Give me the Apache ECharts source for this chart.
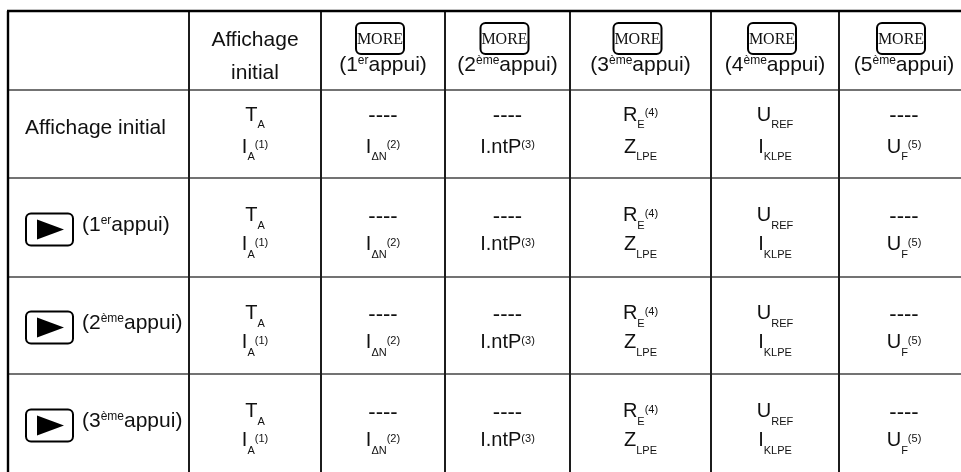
<!DOCTYPE html>
<html><head><meta charset="utf-8">
<script src="https://cdn.jsdelivr.net/npm/echarts@6/dist/echarts.min.js"></script>
<style>html,body{margin:0;padding:0;background:#fff}#c{width:961px;height:472px}</style>
</head><body><div id="c"></div>
<script>
// ---------------- data ----------------
const headerFirstCol = ['Affichage', 'initial'];
const buttonLabel = 'MORE';
const pressOrdinals = ['1', '2', '3', '4', '5'];
const pressSuffixes = ['er', 'ème', 'ème', 'ème', 'ème'];
const pressWord = 'appui)';
const rowFirstLabel = 'Affichage initial';
const rowOrdinals = ['1', '2', '3'];
const rowSuffixes = ['er', 'ème', 'ème'];
// markup: main_sub^sup
const cellLine1 = ['T_A', '----', '----', 'R_E^(4)', 'U_REF', '----'];
const cellLine2 = ['I_A^(1)', 'I_\u0394N^(2)', 'I.ntP^(3)', 'Z_LPE', 'I_KLPE', 'U_F^(5)'];

// ---------------- layout ----------------
const COLS = [8, 189, 321, 445, 570, 711, 839, 969];
const ROWS = [11, 90, 178, 277, 374, 473];
const FONT = '"Liberation Sans", Arial, sans-serif';
const SERIF = '"Liberation Serif", "Times New Roman", serif';
const INK = '#111';
const BORDER = '#000', V_LINE = '#1c1c1c', H_LINE = '#444';

const mctx = document.createElement('canvas').getContext('2d');
function tw(s, size, fam) { mctx.font = size + 'px ' + (fam || FONT); return mctx.measureText(s).width; }
function txt(s, x, y, size, align, fam) {
  return { type: 'text', style: { text: s, x: x, y: y, fill: INK, font: size + 'px ' + (fam || FONT), align: align || 'left', verticalAlign: 'middle' } };
}
function line(x1, y1, x2, y2, stroke, w) {
  return { type: 'line', shape: { x1, y1, x2, y2 }, style: { stroke, lineWidth: w } };
}
function parse(s) {
  let main = s, sub = '', sup = '';
  const ci = main.indexOf('^'); if (ci >= 0) { sup = main.slice(ci + 1); main = main.slice(0, ci); }
  const ui = main.indexOf('_'); if (ui >= 0) { sub = main.slice(ui + 1); main = main.slice(0, ui); }
  return { main, sub, sup };
}
const MAIN = 20, SMALL = 11;
function composed(s, cx, y, out) {
  const p = parse(s);
  const isDash = /^-+$/.test(p.main);
  const size = isDash ? 22 : MAIN;
  const wm = tw(p.main, size), ws = p.sub ? tw(p.sub, SMALL) : 0, wp = p.sup ? tw(p.sup, SMALL) : 0;
  let x = cx - (wm + ws + wp) / 2;
  out.push(txt(p.main, x, isDash ? y + 1 : y, size));
  x += wm;
  if (p.sub) { out.push(txt(p.sub, x, y + 10, SMALL)); x += ws; }
  if (p.sup) { out.push(txt(p.sup, x, y - 2, SMALL)); }
}
const HS = 21, HSUP = 12;
function pressText(ord, suf, x, y, centered, out) {
  const a = '(' + ord;
  const w1 = tw(a, HS), w2 = tw(suf, HSUP), w3 = tw(pressWord, HS);
  let sx = centered ? x - (w1 + w2 + w3) / 2 : x;
  out.push(txt(a, sx, y, HS)); sx += w1;
  out.push(txt(suf, sx, y - 4, HSUP)); sx += w2;
  out.push(txt(pressWord, sx, y, HS));
}

function renderItem(params, api) {
  const kind = api.value(0), a = api.value(1), b = api.value(2);
  const ch = [];
  const last = COLS.length - 1, lastR = ROWS.length - 1;
  if (kind === 0) {
    for (let i = 1; i < lastR; i++) ch.push(line(COLS[0], ROWS[i], COLS[last], ROWS[i], H_LINE, 1.6));
    for (let j = 1; j < last; j++) ch.push(line(COLS[j], ROWS[0], COLS[j], ROWS[lastR], V_LINE, 2));
    ch.push(line(COLS[0] - 1, ROWS[0], COLS[last], ROWS[0], BORDER, 2.4));
    ch.push(line(COLS[0], ROWS[0], COLS[0], ROWS[lastR], BORDER, 2.4));
  } else if (kind === 1) {
    const cx = (COLS[1] + COLS[2]) / 2;
    ch.push(txt(headerFirstCol[0], cx, 40.5, HS, 'center'));
    ch.push(txt(headerFirstCol[1], cx, 73, HS, 'center'));
  } else if (kind === 2) {
    const cx = (COLS[a + 2] + COLS[a + 3]) / 2;
    const bx = cx - 3 - 24, by = 23;
    ch.push({ type: 'rect', shape: { x: bx, y: by, width: 48, height: 31, r: 5 }, style: { fill: '#fff', stroke: '#000', lineWidth: 2 } });
    ch.push(txt(buttonLabel, cx - 3, 40, 16, 'center', SERIF));
    pressText(pressOrdinals[a], pressSuffixes[a], cx, 65, true, ch);
  } else if (kind === 3) {
    const cx = (COLS[0] + COLS[1]) / 2 - 3;
    const cy = (ROWS[1] + ROWS[2]) / 2;
    ch.push(txt(rowFirstLabel, cx, cy - 6, HS, 'center'));
  } else if (kind === 4) {
    const cy = (ROWS[a + 2] + ROWS[a + 3]) / 2;
    const bx = 26, by = cy + 2 - 16;
    ch.push({ type: 'rect', shape: { x: bx, y: by, width: 47, height: 32, r: 5 }, style: { fill: '#fff', stroke: '#000', lineWidth: 2 } });
    ch.push({ type: 'polygon', shape: { points: [[bx + 11, by + 6], [bx + 38, by + 16], [bx + 11, by + 26]] }, style: { fill: '#000' } });
    pressText(rowOrdinals[a], rowSuffixes[a], 82, cy - 2.5, false, ch);
  } else if (kind === 5) {
    const cx = (COLS[b + 1] + COLS[b + 2]) / 2;
    const cy = (ROWS[a + 1] + ROWS[a + 2]) / 2;
    const off = a === 0 ? [-19, 13] : [-12, 17];
    composed(cellLine1[b], cx, cy + off[0], ch);
    composed(cellLine2[b], cx, cy + off[1], ch);
  }
  return { type: 'group', children: ch };
}

const items = [[0, 0, 0], [1, 0, 0]];
for (let k = 0; k < pressOrdinals.length; k++) items.push([2, k, 0]);
items.push([3, 0, 0]);
for (let r = 0; r < rowOrdinals.length; r++) items.push([4, r, 0]);
for (let r = 0; r < 1 + rowOrdinals.length; r++)
  for (let c = 0; c < cellLine1.length; c++) items.push([5, r, c]);

const chart = echarts.init(document.getElementById('c'));
chart.setOption({
  backgroundColor: '#fff',
  animation: false,
  series: [{
    type: 'custom',
    coordinateSystem: 'none',
    silent: true,
    renderItem: renderItem,
    data: items
  }]
});
</script>
</body></html>
